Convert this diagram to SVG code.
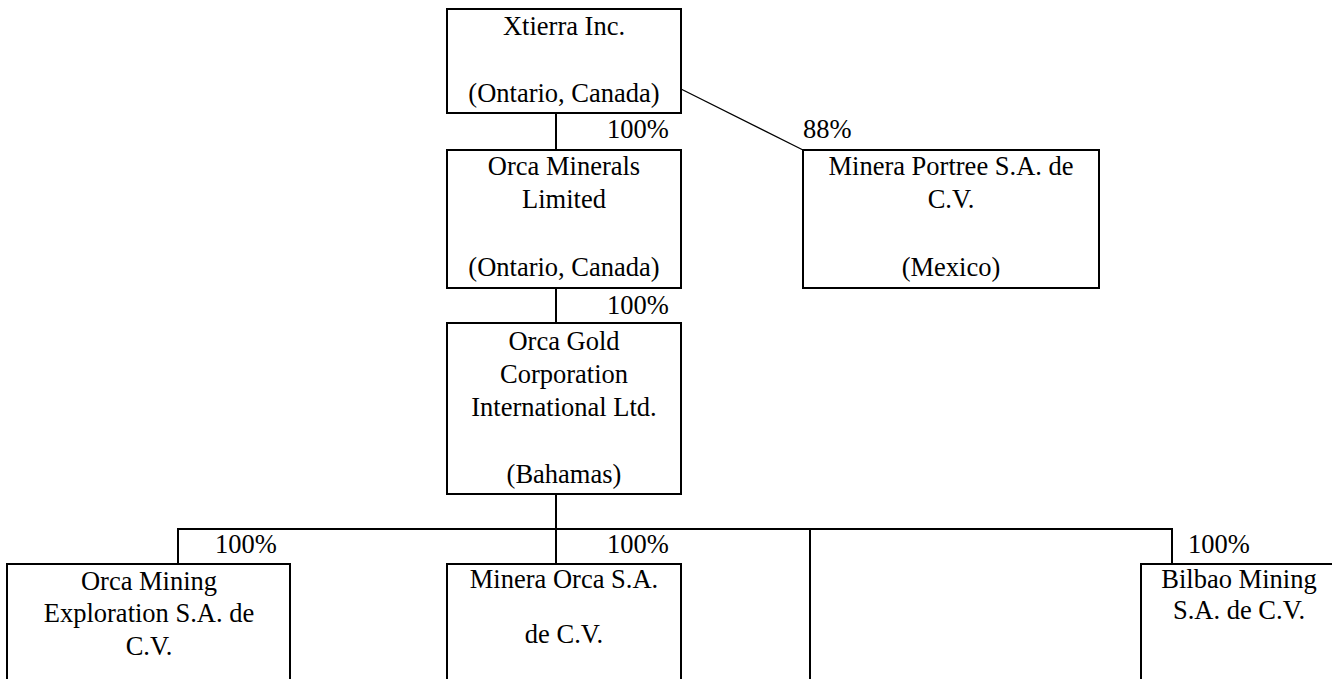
<svg xmlns="http://www.w3.org/2000/svg" width="1332" height="679" viewBox="0 0 1332 679">
<style>
.box{fill:#fff;stroke:#000;stroke-width:2}
.ln{fill:none;stroke:#000;stroke-width:2}
.thin{fill:none;stroke:#000;stroke-width:1.2}
text{font-family:'Liberation Serif','DejaVu Serif',serif;font-size:26.5px;fill:#000}
.c{text-anchor:middle}
</style>
<rect width="1332" height="679" fill="#fff"/>
<g font-family="Liberation Serif, DejaVu Serif, serif">
<g id="connectors">
<line class="ln" x1="556" y1="113" x2="556" y2="150"/>
<line class="thin" x1="677" y1="87" x2="803" y2="150"/>
<line class="ln" x1="556" y1="288" x2="556" y2="323"/>
<line class="ln" x1="556" y1="494" x2="556" y2="564"/>
<polyline class="ln" points="178,564 178,529 1172,529 1172,564"/>
<line class="ln" x1="810" y1="529" x2="810" y2="690"/>
<text x="607" y="138">100%</text>
<text x="803" y="138">88%</text>
<text x="607" y="314">100%</text>
<text x="215" y="553">100%</text>
<text x="607" y="553">100%</text>
<text x="1188" y="553">100%</text>
</g>
<g id="xtierra">
<rect class="box" x="447" y="9" width="234" height="104"/>
<text class="c" x="564" y="35">Xtierra Inc.</text>
<text class="c" x="564" y="102">(Ontario, Canada)</text>
</g>
<g id="orca-minerals">
<rect class="box" x="447" y="150" width="234" height="138"/>
<text class="c" x="564" y="175">Orca Minerals</text>
<text class="c" x="564" y="208">Limited</text>
<text class="c" x="564" y="276">(Ontario, Canada)</text>
</g>
<g id="portree">
<rect class="box" x="803" y="150" width="296" height="138"/>
<text class="c" x="951" y="175">Minera Portree S.A. de</text>
<text class="c" x="951" y="208">C.V.</text>
<text class="c" x="951" y="276">(Mexico)</text>
</g>
<g id="orca-gold">
<rect class="box" x="447" y="323" width="234" height="171"/>
<text class="c" x="564" y="350">Orca Gold</text>
<text class="c" x="564" y="383">Corporation</text>
<text class="c" x="564" y="416">International Ltd.</text>
<text class="c" x="564" y="483">(Bahamas)</text>
</g>
<g id="orca-mining">
<rect class="box" x="7" y="564" width="283" height="140"/>
<text class="c" x="149" y="590">Orca Mining</text>
<text class="c" x="149" y="622">Exploration S.A. de</text>
<text class="c" x="149" y="655">C.V.</text>
</g>
<g id="minera-orca">
<rect class="box" x="447" y="564" width="234" height="140"/>
<text class="c" x="564" y="588">Minera Orca S.A.</text>
<text class="c" x="564" y="643">de C.V.</text>
</g>
<g id="bilbao">
<rect class="box" x="1141" y="564" width="196" height="140"/>
<text class="c" x="1239" y="588">Bilbao Mining</text>
<text class="c" x="1239" y="619">S.A. de C.V.</text>
</g>
</g>
</svg>
